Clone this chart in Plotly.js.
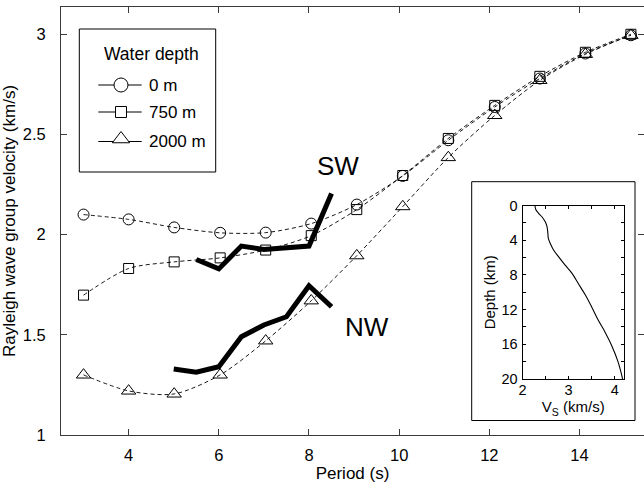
<!DOCTYPE html>
<html>
<head>
<meta charset="utf-8">
<script src="https://cdn.plot.ly/plotly-3.0.1.min.js"></script>
<style>html,body{margin:0;padding:0;background:#fff;}#chart{width:644px;height:485px;}</style>
</head>
<body>
<div id="chart"></div>
<script>
// ---- data ----
const periods = [3.0, 4.0, 5.01, 6.03, 7.04, 8.05, 9.06, 10.08, 11.09, 12.12, 13.12, 14.13, 15.14];
const vel0m    = [2.10, 2.076, 2.036, 2.009, 2.01, 2.055, 2.15, 2.293, 2.471, 2.637, 2.779, 2.904, 2.995];
const vel750m  = [1.698, 1.831, 1.864, 1.884, 1.923, 1.995, 2.125, 2.295, 2.48, 2.645, 2.79, 2.91, 3.0];
const vel2000m = [1.30, 1.22, 1.205, 1.30, 1.47, 1.67, 1.895, 2.14, 2.385, 2.595, 2.77, 2.90, 2.995];

const swPeriods = [5.5, 6, 6.5, 7, 8, 8.5];
const swVel     = [1.876, 1.829, 1.943, 1.926, 1.943, 2.205];
const nwPeriods = [5, 5.5, 6, 6.5, 7, 7.5, 8, 8.5];
const nwVel     = [1.329, 1.313, 1.341, 1.49, 1.549, 1.59, 1.745, 1.64];

const profVs    = [2.27, 2.29, 2.35, 2.42, 2.49, 2.53, 2.55, 2.56, 2.60, 2.67, 2.78, 2.92, 3.07, 3.21, 3.36, 3.50, 3.64, 3.79, 3.93, 4.07, 4.17];
const profDepth = [0, 0.5, 0.9, 1.3, 1.85, 2.4, 3.2, 3.8, 4.35, 5.1, 5.9, 6.85, 7.8, 9.0, 10.3, 11.7, 13.2, 14.6, 16.1, 18.0, 20];

const legendLabels = ['0 m', '750 m', '2000 m'];
const legendTitle = 'Water depth';
const seriesSymbols = ['circle-open', 'square-open', 'triangle-up-open'];
const legendSymbols = ['circle', 'square', 'triangle-up'];

// ---- geometry (figure pixels) ----
const W = 644, H = 485;
const L = 61, R = 0, T = 7, B = 50;
const PW = W - L - R, PH = H - T - B;
const FONT = 'Liberation Sans, Arial, Helvetica, sans-serif';
const AX = '#3a3a3a';

function dx(px){ return (px - L) / PW; }
function dy(py){ return (H - B - py) / PH; }

const traces = [];
const seriesVals = [vel0m, vel750m, vel2000m];
const mSizes = [11, 10, 12.5];
seriesVals.forEach((v, i) => {
  traces.push({
    x: periods, y: v, type: 'scatter', mode: 'lines+markers',
    line: {color: '#000', width: 0.9, dash: '4px,3px', shape: 'spline', smoothing: 0.8},
    marker: {symbol: seriesSymbols[i], size: mSizes[i], color: '#000', line: {width: 1, color: '#000'}},
    showlegend: false, hoverinfo: 'skip'
  });
});
traces.push({x: swPeriods, y: swVel, type: 'scatter', mode: 'lines',
  line: {color: '#000', width: 5, shape: 'linear'}, showlegend: false, hoverinfo: 'skip'});
traces.push({x: nwPeriods, y: nwVel, type: 'scatter', mode: 'lines',
  line: {color: '#000', width: 5, shape: 'linear'}, showlegend: false, hoverinfo: 'skip'});

// inset profile
traces.push({x: profVs, y: profDepth, xaxis: 'x2', yaxis: 'y2', type: 'scatter', mode: 'lines',
  line: {color: '#000', width: 1.1, shape: 'spline'}, showlegend: false, hoverinfo: 'skip'});

// custom legend on a pixel overlay axis (x3/y3)
const legRowY = [85, 112, 141.5];
const legLineX = [98.3, 141.7];
const legMarkX = 121;
const legMSizes = [14, 11, 15];
legRowY.forEach((yy, i) => {
  traces.push({x: legLineX, y: [yy, yy], xaxis: 'x3', yaxis: 'y3', type: 'scatter', mode: 'lines',
    line: {color: '#000', width: 1}, showlegend: false, hoverinfo: 'skip'});
  traces.push({x: [legMarkX], y: [yy + (i === 2 ? -2.5 : 0)], xaxis: 'x3', yaxis: 'y3', type: 'scatter', mode: 'markers',
    marker: {symbol: legendSymbols[i], size: legMSizes[i], color: '#fff', line: {width: 1, color: '#000'}},
    showlegend: false, hoverinfo: 'skip'});
});

const annotations = [
  {xref: 'x3', yref: 'y3', x: 151, y: 54, text: legendTitle, showarrow: false,
   xanchor: 'center', yanchor: 'middle', font: {family: FONT, size: 17.5, color: '#000'}},
  {xref: 'x', yref: 'y', x: 8.64, y: 2.342, text: 'SW', showarrow: false,
   xanchor: 'center', yanchor: 'middle', font: {family: FONT, size: 26, color: '#000'}},
  {xref: 'x', yref: 'y', x: 9.29, y: 1.539, text: 'NW', showarrow: false,
   xanchor: 'center', yanchor: 'middle', font: {family: FONT, size: 26, color: '#000'}}
];
legRowY.forEach((yy, i) => {
  annotations.push({xref: 'x3', yref: 'y3', x: 146.5, y: yy, text: legendLabels[i], showarrow: false,
    xanchor: 'left', yanchor: 'middle', font: {family: FONT, size: 17, color: '#000'}});
});

const shapes = [
  {type: 'rect', xref: 'paper', yref: 'paper', x0: dx(79.3), x1: dx(215.7), y0: dy(172), y1: dy(29),
   line: {color: '#000', width: 1}, fillcolor: '#fff', layer: 'below'},
  {type: 'rect', xref: 'paper', yref: 'paper', x0: dx(471.7), x1: dx(635), y0: dy(420.5), y1: dy(181.7),
   line: {color: '#000', width: 1}, fillcolor: '#fff', layer: 'below'}
];

const layout = {
  width: W, height: H,
  margin: {l: L, r: R, t: T, b: B, pad: 0},
  paper_bgcolor: '#fff', plot_bgcolor: 'rgba(0,0,0,0)',
  font: {family: FONT, color: '#000'},
  showlegend: false,
  xaxis: {
    range: [2.5, 15.43], tick0: 0, dtick: 2, ticks: 'inside', ticklen: 6, tickcolor: AX, tickwidth: 1,
    showline: true, linecolor: AX, linewidth: 1, mirror: 'ticks', showgrid: false, zeroline: false,
    tickfont: {family: FONT, size: 16.5, color: '#000'}, ticklabelstandoff: 5,
    title: {text: 'Period (s)', font: {family: FONT, size: 17, color: '#000'}, standoff: 4},
    anchor: 'y'
  },
  yaxis: {
    range: [1, 3.136], tick0: 1, dtick: 0.5, ticks: 'inside', ticklen: 6, tickcolor: AX, tickwidth: 1,
    showline: true, linecolor: AX, linewidth: 1, mirror: 'ticks', showgrid: false, zeroline: false,
    tickfont: {family: FONT, size: 16.5, color: '#000'}, ticklabelstandoff: 11,
    title: {text: 'Rayleigh wave group velocity (km/s)', font: {family: FONT, size: 17, color: '#000'}, standoff: 6},
    anchor: 'x'
  },
  xaxis2: {
    domain: [dx(522.5), dx(624)], anchor: 'y2', range: [2, 4.2], tick0: 2, dtick: 1,
    ticks: 'inside', ticklen: 3.5, tickcolor: '#000', showline: true, linecolor: '#000', linewidth: 1,
    mirror: 'ticks', showgrid: false, zeroline: false,
    minor: {dtick: 0.5, tick0: 2, ticks: 'inside', ticklen: 3.5, tickcolor: '#000', showgrid: false},
    tickfont: {family: FONT, size: 14.5, color: '#000'}, ticklabelstandoff: -2,
    title: {text: 'V<sub>S</sub> (km/s)', font: {family: FONT, size: 15, color: '#000'}, standoff: 0}
  },
  yaxis2: {
    domain: [dy(379), dy(205.5)], anchor: 'x2', range: [20, 0], tick0: 0, dtick: 4,
    ticks: 'inside', ticklen: 3.5, tickcolor: '#000', showline: true, linecolor: '#000', linewidth: 1,
    mirror: 'ticks', showgrid: false, zeroline: false,
    minor: {dtick: 2, tick0: 0, ticks: 'inside', ticklen: 3.5, tickcolor: '#000', showgrid: false},
    tickfont: {family: FONT, size: 14.5, color: '#000'}, ticklabelstandoff: 1,
    title: {text: 'Depth (km)', font: {family: FONT, size: 15, color: '#000'}, standoff: 2}
  },
  xaxis3: {domain: [0, 1], range: [L, W - R], visible: false, fixedrange: true, anchor: 'y3'},
  yaxis3: {domain: [0, 1], range: [H - B, T], visible: false, fixedrange: true, anchor: 'x3'},
  annotations: annotations,
  shapes: shapes
};

Plotly.newPlot('chart', traces, layout, {staticPlot: true, displayModeBar: false});
</script>
</body>
</html>
